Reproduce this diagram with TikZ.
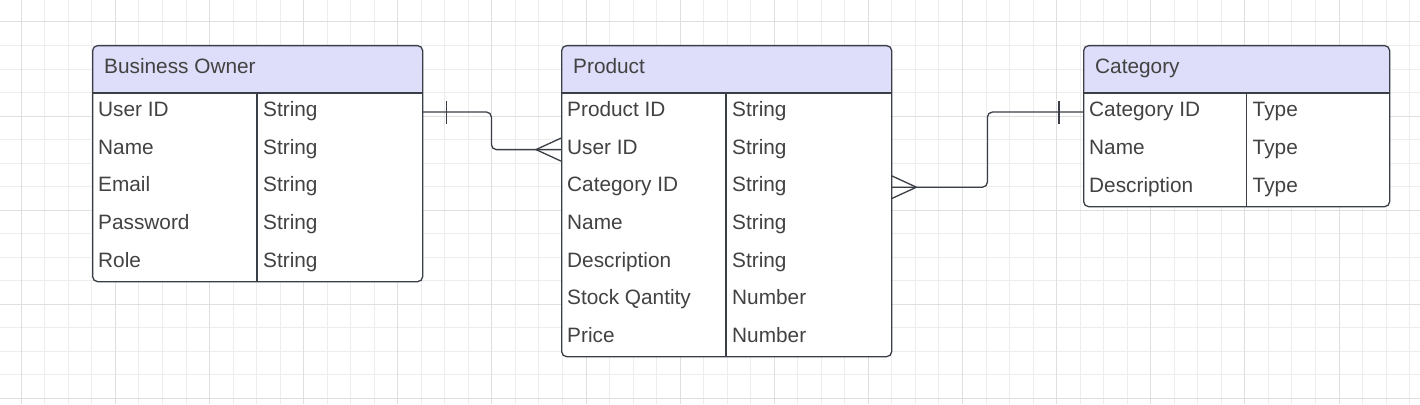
\documentclass[tikz,border=0pt]{standalone}
\usepackage{fontspec}
\setmainfont{Liberation Sans}
\usetikzlibrary{positioning}

\definecolor{gridminor}{RGB}{237,237,237}
\definecolor{gridmajor}{RGB}{223,223,223}
\definecolor{linecol}{RGB}{58,62,70}
\definecolor{headfill}{RGB}{222,222,250}
\definecolor{textcol}{RGB}{66,66,66}

\tikzset{
  tbl/.style={draw=linecol, fill=white, line width=1.3pt, rounded corners=5pt,
    inner sep=0pt, anchor=north west,
    path picture={\fill[headfill] (path picture bounding box.north west)
      rectangle ([yshift=-48pt]path picture bounding box.north east);}},
  row/.style={inner sep=0pt, minimum height=37.6pt, anchor=north west},
  lbl/.style={anchor=base west, inner sep=0pt, text=textcol,
    font=\fontsize{20.8}{24}\selectfont},
  lin/.style={draw=linecol, line width=1.3pt},
  conn/.style={lin, rounded corners=5pt},
}

\begin{document}
\begin{tikzpicture}[x=1pt,y=-1pt]
\useasboundingbox (0,0) rectangle (1420,404);
\fill[white] (0,0) rectangle (1420,404);

% grid
\foreach \i in {0,...,59}
\draw[gridminor, line width=1pt] ({21.3+23.53*\i},0) -- ++(0,404);
\foreach \j in {0,...,16}
\draw[gridminor, line width=1pt] (0,{22+23.53*\j}) -- ++(1420,0);
\foreach \i in {0,4,...,56}
\draw[gridmajor, line width=1pt] ({21.3+23.53*\i},0) -- ++(0,404);
\foreach \j in {0,4,...,16}
\draw[gridmajor, line width=1pt] (0,{22+23.53*\j}) -- ++(1420,0);

% Business Owner
\node[tbl, minimum width=330pt, minimum height=236pt] (owner) at (92,45) {};
\node[lbl] (owner-t) at ([xshift=12pt,yshift=-29pt]owner.north west) {Business Owner};
\foreach \n/\ntype [count=\i] in {User ID/String, Name/String, Email/String,
    Password/String, Role/String} {
  \node[row, minimum width=330pt] (owner-\i) at ([yshift={-48pt-37.6pt*(\i-1)}]owner.north west) {};
  \node[lbl] at ([xshift=6pt,yshift=-4.7pt]owner-\i.west) {\n};
  \node[lbl] at ([xshift=171pt,yshift=-4.7pt]owner-\i.west) {\ntype};
}
\draw[lin] (owner-1.north west) -- (owner-1.north east);
\draw[lin] ([xshift=165pt]owner-1.north west) -- ([xshift=165pt]owner.south west);

% Product
\node[tbl, minimum width=330pt, minimum height=311pt] (prod) at (561,45) {};
\node[lbl] (prod-t) at ([xshift=12pt,yshift=-29pt]prod.north west) {Product};
\foreach \n/\ntype [count=\i] in {Product ID/String, User ID/String,
    Category ID/String, Name/String, Description/String,
    Stock Qantity/Number, Price/Number} {
  \node[row, minimum width=330pt] (prod-\i) at ([yshift={-48pt-37.6pt*(\i-1)}]prod.north west) {};
  \node[lbl] at ([xshift=6pt,yshift=-4.7pt]prod-\i.west) {\n};
  \node[lbl] at ([xshift=171pt,yshift=-4.7pt]prod-\i.west) {\ntype};
}
\draw[lin] (prod-1.north west) -- (prod-1.north east);
\draw[lin] ([xshift=165pt]prod-1.north west) -- ([xshift=165pt]prod.south west);

% Category
\node[tbl, minimum width=306pt, minimum height=161pt] (cat) at (1083,45) {};
\node[lbl] (cat-t) at ([xshift=12pt,yshift=-29pt]cat.north west) {Category};
\foreach \n/\ntype [count=\i] in {Category ID/Type, Name/Type, Description/Type} {
  \node[row, minimum width=306pt, minimum height=37.7pt] (cat-\i) at ([yshift={-48pt-37.7pt*(\i-1)}]cat.north west) {};
  \node[lbl] at ([xshift=6pt,yshift=-4.7pt]cat-\i.west) {\n};
  \node[lbl] at ([xshift=169.5pt,yshift=-4.7pt]cat-\i.west) {\ntype};
}
\draw[lin] (cat-1.north west) -- (cat-1.north east);
\draw[lin] ([xshift=163.5pt]cat-1.north west) -- ([xshift=163.5pt]cat.south west);

% owner -- product
\draw[conn] (owner-1.east) -- ++(69,0) |- (prod-2.west);
\draw[lin] ([xshift=24pt]owner-1.east) ++(0,-11.5) -- ++(0,23);
\draw[lin] (prod-2.west) ++(0,-11.5) -- ++(-25,11.5) -- ++(25,11.5);

% product -- category
\draw[conn] (prod-3.east) -- ++(96,0) |- (cat-1.west);
\draw[lin] ([xshift=-24pt]cat-1.west) ++(0,-11.5) -- ++(0,23);
\draw[lin] (prod-3.east) ++(0,-11.5) -- ++(25,11.5) -- ++(-25,11.5);
\end{tikzpicture}
\end{document}
